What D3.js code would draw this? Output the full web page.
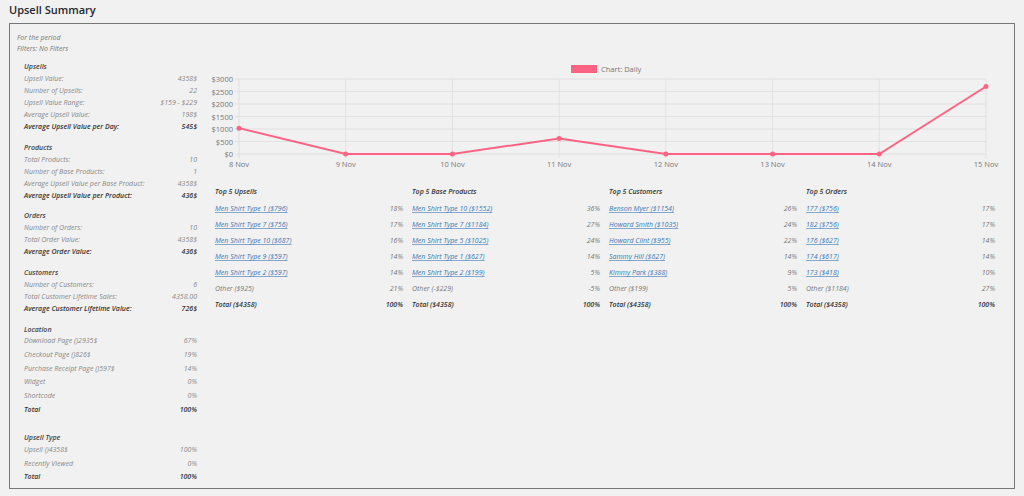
<!DOCTYPE html>
<html><head><meta charset="utf-8">
<script src="https://cdn.jsdelivr.net/npm/d3@7/dist/d3.min.js"></script>
<style>
body{margin:0;background:#f1f1f1;font-family:"Open Sans",sans-serif;}
</style></head><body>
<svg id="c" width="1024" height="496"></svg>
<script>
const days=["8 Nov","9 Nov","10 Nov","11 Nov","12 Nov","13 Nov","14 Nov","15 Nov"];
const dailyValues=[1035,0,0,622,0,0,0,2701];
const yTicks=[0,500,1000,1500,2000,2500,3000];

const leftSections=[
 {title:"Upsells",y:66,rows:[["Upsell Value:","4358$"],["Number of Upsells:","22"],["Upsell Value Range:","$159 - $229"],["Average Upsell Value:","198$"],["Average Upsell Value per Day:","545$",1]],step:12},
 {title:"Products",y:147,rows:[["Total Products:","10"],["Number of Base Products:","1"],["Average Upsell Value per Base Product:","4358$"],["Average Upsell Value per Product:","436$",1]],step:12},
 {title:"Orders",y:215,rows:[["Number of Orders:","10"],["Total Order Value:","4358$"],["Average Order Value:","436$",1]],step:12},
 {title:"Customers",y:272,rows:[["Number of Customers:","6"],["Total Customer Lifetime Sales:","4358.00"],["Average Customer Lifetime Value:","726$",1]],step:12},
 {title:"Location",y:329,rows:[["Download Page ()2935$","67%"],["Checkout Page ()826$","19%"],["Purchase Receipt Page ()597$","14%"],["Widget","0%"],["Shortcode","0%"],["Total","100%",1]],step:13.8,first:11},
 {title:"Upsell Type",y:437,rows:[["Upsell ()4358$","100%"],["Recently Viewed","0%"],["Total","100%",1]],step:13.5}
];
const tables=[
 {title:"Top 5 Upsells",rows:[["Men Shirt Type 1 ($796)","18%"],["Men Shirt Type 7 ($756)","17%"],["Men Shirt Type 10 ($687)","16%"],["Men Shirt Type 9 ($597)","14%"],["Men Shirt Type 2 ($597)","14%"]],other:["Other  ($925)","21%"]},
 {title:"Top 5 Base Products",rows:[["Men Shirt Type 10 ($1552)","36%"],["Men Shirt Type 7 ($1184)","27%"],["Men Shirt Type 5 ($1025)","24%"],["Men Shirt Type 1 ($627)","14%"],["Men Shirt Type 2 ($199)","5%"]],other:["Other  (-$229)","-5%"]},
 {title:"Top 5 Customers",rows:[["Benson Myer ($1154)","26%"],["Howard Smith ($1035)","24%"],["Howard Clint ($955)","22%"],["Sammy Hill ($627)","14%"],["Kimmy Park ($388)","9%"]],other:["Other  ($199)","5%"]},
 {title:"Top 5 Orders",rows:[["177 ($756)","17%"],["182 ($756)","17%"],["176 ($627)","14%"],["174 ($617)","14%"],["173 ($418)","10%"]],other:["Other  ($1184)","27%"]}
];

const svg=d3.select("#c");
svg.append("rect").attr("x",0).attr("y",0).attr("width",1024).attr("height",496).attr("fill","#f1f1f1");
svg.append("text").attr("x",9).attr("y",14).attr("font-size",11).attr("font-weight",600).attr("fill","#23282d").text("Upsell Summary");
svg.append("rect").attr("x",9.5).attr("y",23.5).attr("width",1005).attr("height",465).attr("fill","none").attr("stroke","#777").attr("stroke-width",1);

const it=(x,y,t,o={})=>svg.append("text").attr("x",x).attr("y",y).attr("font-size",o.fs||7).attr("font-style","italic")
 .attr("font-weight",o.b?600:400).attr("fill",o.c||"#777").attr("text-anchor",o.a||"start").text(t);
it(17,40,"For the period");
it(17,51,"Filters: No Filters");
leftSections.forEach(s=>{
 it(24,s.y+3,s.title,{b:1,c:"#444"});
 s.rows.forEach((r,i)=>{
  const y=s.y+3+(s.first||12)+i*s.step;
  it(24,y,r[0],{b:r[2],c:r[2]?"#333":"#888"});
  it(197,y,r[1],{b:r[2],c:r[2]?"#333":"#888",a:"end"});
 });
});

const colX=[215,412,609,806], pctX=[403,600,797,995];
tables.forEach((t,k)=>{
 it(colX[k],194,t.title,{b:1,c:"#333"});
 t.rows.forEach((r,i)=>{
  const y=211+i*16;
  const tx=it(colX[k],y,r[0],{c:"#3a78b5"});
  const w=tx.node().getComputedTextLength();
  svg.append("line").attr("x1",colX[k]).attr("x2",colX[k]+w).attr("y1",y+1.5).attr("y2",y+1.5).attr("stroke","#3a78b5").attr("stroke-width",0.6);
  it(pctX[k],y,r[1],{a:"end"});
 });
 it(colX[k],291,t.other[0]);it(pctX[k],291,t.other[1],{a:"end"});
 it(colX[k],307,"Total  ($4358)",{b:1,c:"#333"});it(pctX[k],307,"100%",{b:1,c:"#333",a:"end"});
});

// chart
const x=d3.scalePoint().domain(days).range([239,986]);
const y=d3.scaleLinear().domain([0,3000]).range([154,79]);
const g=svg.append("g");
g.selectAll(".hg").data(yTicks).join("line").attr("x1",235).attr("x2",986).attr("y1",d=>y(d)).attr("y2",d=>y(d)).attr("stroke","#ddd").attr("stroke-width",0.8);
g.selectAll(".vg").data(days).join("line").attr("x1",d=>x(d)).attr("x2",d=>x(d)).attr("y1",79).attr("y2",158).attr("stroke","#ddd").attr("stroke-width",0.8);
g.selectAll(".yl").data(yTicks).join("text").attr("x",233).attr("y",d=>y(d)+3).attr("text-anchor","end").attr("font-size",7.5).attr("fill","#777").text(d=>"$"+d);
g.selectAll(".xl").data(days).join("text").attr("x",d=>x(d)).attr("y",167).attr("text-anchor","middle").attr("font-size",7.5).attr("fill","#777").text(d=>d);
g.append("path").datum(days.map((d,i)=>[d,dailyValues[i]])).attr("fill","none").attr("stroke","#ff6384").attr("stroke-width",2)
 .attr("d",d3.line().x(d=>x(d[0])).y(d=>y(d[1])));
g.selectAll(".pt").data(days).join("circle").attr("cx",d=>x(d)).attr("cy",(d,i)=>y(dailyValues[i])).attr("r",2.5).attr("fill","#ff6384");
svg.append("rect").attr("x",571).attr("y",65).attr("width",26).attr("height",8).attr("fill","#ff6384");
svg.append("text").attr("x",601).attr("y",72).attr("font-size",7.5).attr("fill","#777").text("Chart: Daily");
</script></body></html>
